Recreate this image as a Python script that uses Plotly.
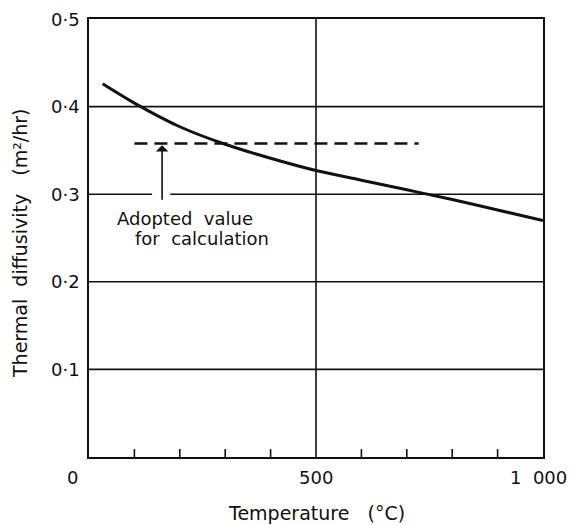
import plotly.graph_objects as go

# Data
temp_c = [30, 100, 200, 300, 400, 500, 600, 700, 800, 900, 1000]
diffusivity = [0.426, 0.404, 0.377, 0.357, 0.341, 0.327, 0.316, 0.305, 0.294, 0.282, 0.270]

adopted_value = 0.358
adopted_range = [100, 726]
arrow_x = 161
arrow_from = 0.292

x_tick_vals = [0, 500, 1000]
x_tick_text = ["0", "500", "1  000"]
x_minor = [100, 200, 300, 400, 600, 700, 800, 900]
y_tick_vals = [0.1, 0.2, 0.3, 0.4, 0.5]
y_tick_text = ["0·1", "0·2", "0·3", "0·4", "0·5"]
y_grid = [0.1, 0.2, 0.3, 0.4]

FONT = "DejaVu Sans"
BLACK = "#111111"

fig = go.Figure()

fig.add_trace(go.Scatter(
    x=temp_c, y=diffusivity, mode="lines",
    line=dict(color=BLACK, width=3, shape="spline", smoothing=1.0),
    hoverinfo="skip", showlegend=False))

fig.add_trace(go.Scatter(
    x=adopted_range, y=[adopted_value, adopted_value], mode="lines",
    line=dict(color=BLACK, width=2.5, dash="13px,7px"),
    hoverinfo="skip", showlegend=False))

shapes = []
for g in y_grid:
    shapes.append(dict(type="line", xref="x", yref="y", x0=0, x1=1000, y0=g, y1=g,
                       line=dict(color=BLACK, width=1.6), layer="below"))
shapes.append(dict(type="line", xref="x", yref="y", x0=500, x1=500, y0=0, y1=0.5,
                   line=dict(color=BLACK, width=1.6), layer="below"))
# gap in the 0.3 gridline around the arrow
shapes.append(dict(type="line", xref="x", yref="y", x0=139, x1=179, y0=0.3, y1=0.3,
                   line=dict(color="white", width=4), layer="above"))
for m in x_minor:
    shapes.append(dict(type="line", xref="x", yref="paper", x0=m, x1=m, y0=0, y1=0.018,
                       line=dict(color=BLACK, width=1.6), layer="above"))

annotations = []
# arrow
annotations.append(dict(x=arrow_x, y=adopted_value - 0.002, ax=arrow_x, ay=arrow_from,
                        xref="x", yref="y", axref="x", ayref="y",
                        showarrow=True, arrowhead=1, arrowsize=1.3, arrowwidth=1.6,
                        arrowcolor=BLACK, text=""))
annotations.append(dict(x=57, y=0.272, xref="x", yref="y", text="Adopted  value",
                        showarrow=False, xanchor="left", yanchor="middle",
                        font=dict(family=FONT, size=18, color=BLACK)))
annotations.append(dict(x=97, y=0.249, xref="x", yref="y", text="for  calculation",
                        showarrow=False, xanchor="left", yanchor="middle",
                        font=dict(family=FONT, size=18, color=BLACK)))
# x tick labels
x_label_shift = {0: -17, 500: 0, 1000: -5}
for v, t in zip(x_tick_vals, x_tick_text):
    annotations.append(dict(x=v, y=0, xref="x", yref="paper", text=t.replace(" ", "&nbsp;"),
                            showarrow=False,
                            xanchor="center", yanchor="middle", yshift=-20,
                            xshift=x_label_shift[v],
                            font=dict(family=FONT, size=18, color=BLACK)))
# y tick labels
for v, t in zip(y_tick_vals, y_tick_text):
    annotations.append(dict(x=0, y=v, xref="paper", yref="y", text=t, showarrow=False,
                            xanchor="right", yanchor="middle", xshift=-7,
                            font=dict(family=FONT, size=18, color=BLACK)))
# axis titles
annotations.append(dict(x=0.5, y=0, xref="paper", yref="paper",
                        text="Temperature&nbsp;&nbsp;&nbsp;(°C)", showarrow=False,
                        xanchor="center", yanchor="middle", yshift=-56,
                        font=dict(family=FONT, size=19, color=BLACK)))
annotations.append(dict(x=0, y=0.5, xref="paper", yref="paper",
                        text="Thermal&nbsp;&nbsp;diffusivity&nbsp;&nbsp;&nbsp;(m²/hr)",
                        showarrow=False,
                        textangle=-90, xanchor="center", yanchor="middle", xshift=-69,
                        yshift=-5,
                        font=dict(family=FONT, size=19, color=BLACK)))

fig.update_layout(
    width=578, height=525,
    margin=dict(l=89, r=35, t=19, b=68),
    paper_bgcolor="white", plot_bgcolor="white",
    shapes=shapes, annotations=annotations,
    showlegend=False,
)
fig.update_xaxes(range=[0, 1000], showgrid=False, zeroline=False,
                 showline=True, linecolor=BLACK, linewidth=2, mirror=True,
                 showticklabels=False, ticks="")
fig.update_yaxes(range=[0, 0.5], showgrid=False, zeroline=False,
                 showline=True, linecolor=BLACK, linewidth=2, mirror=True,
                 showticklabels=False, ticks="")

fig.write_html("out.html")
